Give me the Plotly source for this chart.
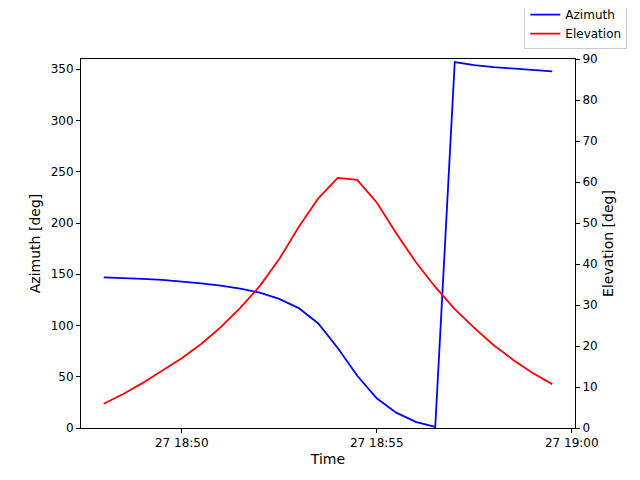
import pandas as pd
import plotly.graph_objects as go

# Pass samples every 30 s
times = pd.date_range("2024-01-27 18:48:00", periods=24, freq="30s")
azimuth = [147, 146.5, 145.5, 144.5, 143, 141, 139, 136, 132, 126, 117, 102,
           78, 51, 29, 15, 6, 1, 357, 354, 352, 350.5, 349.5, 348]
elevation = [5.9, 8.3, 11, 13.9, 17, 20.5, 24.6, 29.3, 34.6, 41.2, 49, 56,
             61, 60.5, 55, 47.5, 40.5, 34.4, 29, 24.4, 20.2, 16.6, 13.4, 10.7]

fig = go.Figure()
fig.add_trace(go.Scatter(x=times, y=azimuth, mode="lines", name="Azimuth",
                         line=dict(color="blue", width=1.8)))
fig.add_trace(go.Scatter(x=times, y=elevation, mode="lines", name="Elevation",
                         line=dict(color="red", width=1.8), yaxis="y2"))

axis_style = dict(showline=True, linecolor="black", ticks="outside",
                  ticklen=4, tickcolor="black", showgrid=False, zeroline=False,
                  automargin=False, tickfont=dict(size=12, color="black"))

fig.update_layout(
    width=640, height=480,
    margin=dict(l=73, r=73, t=51, b=60, autoexpand=False),
    plot_bgcolor="white", paper_bgcolor="white",
    font=dict(family="DejaVu Sans", size=12, color="black"),
    xaxis=dict(axis_style, title=dict(text="Time", standoff=4),
               range=[pd.Timestamp("2024-01-27 18:47:25"), pd.Timestamp("2024-01-27 19:00:05")],
               tickvals=pd.date_range("2024-01-27 18:50", periods=3, freq="5min"),
               tickformat="%d %H:%M", mirror=True),
    yaxis=dict(axis_style, title=dict(text="Azimuth [deg]", standoff=6),
               range=[0, 360], dtick=50),
    yaxis2=dict(axis_style, title=dict(text="Elevation [deg]", standoff=6),
                range=[0, 90], dtick=10, overlaying="y", side="right"),
    legend=dict(x=0.8975, y=1.162, xanchor="left", yanchor="top",
                bordercolor="#cccccc", borderwidth=1, bgcolor="white",
                font=dict(size=12), itemwidth=30, tracegroupgap=0),
)

fig.write_html("out.html")
